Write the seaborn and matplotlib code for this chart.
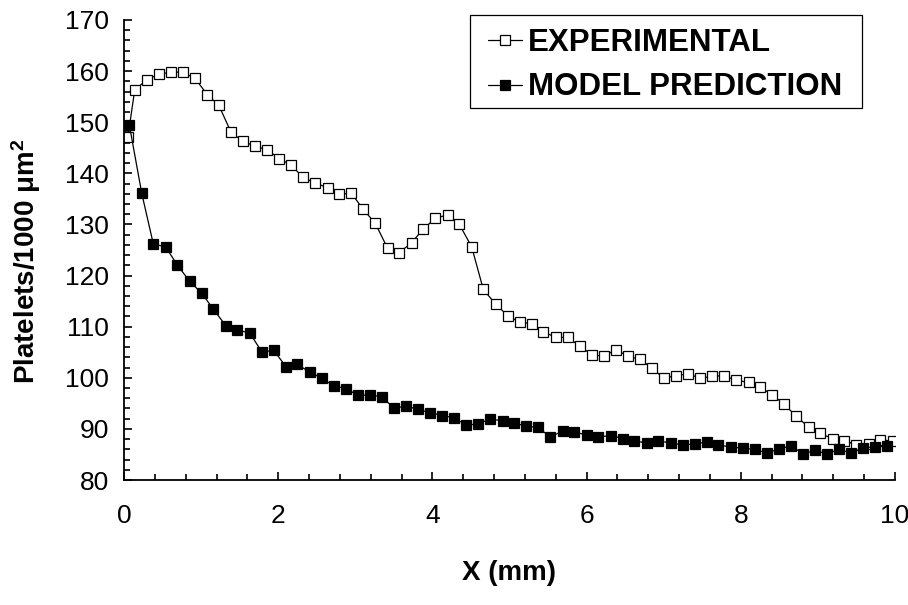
import matplotlib
matplotlib.use("Agg")
import matplotlib.pyplot as plt
from matplotlib.patches import Rectangle
from matplotlib.ticker import MultipleLocator
import seaborn as sns

# Sampling positions along the channel (mm)
x_experimental = [0.05, 0.14, 0.30, 0.45, 0.61, 0.76, 0.92, 1.08, 1.23, 1.39, 1.54,
                  1.70, 1.86, 2.01, 2.17, 2.32, 2.48, 2.64, 2.79, 2.95, 3.10,
                  3.26, 3.42, 3.57, 3.73, 3.88, 4.04, 4.20, 4.35, 4.51, 4.66,
                  4.82, 4.98, 5.13, 5.29, 5.44, 5.60, 5.76, 5.91, 6.07, 6.22,
                  6.38, 6.54, 6.69, 6.85, 7.00, 7.16, 7.32, 7.47, 7.63, 7.78,
                  7.94, 8.10, 8.25, 8.41, 8.56, 8.72, 8.88, 9.03, 9.19, 9.34,
                  9.50, 9.66, 9.81, 9.97]
y_experimental = [147.1, 156.4, 158.3, 159.4, 159.8, 159.8, 158.6, 155.4, 153.3, 148.0, 146.3,
                  145.3, 144.6, 142.9, 141.6, 139.2, 138.1, 137.2, 135.9, 136.1, 133.0,
                  130.2, 125.3, 124.5, 126.4, 129.1, 131.2, 131.9, 130.0, 125.6, 117.3,
                  114.4, 112.1, 110.9, 110.6, 109.0, 107.9, 107.9, 106.2, 104.5, 104.2,
                  105.5, 104.2, 103.6, 101.9, 99.9, 100.4, 100.8, 99.9, 100.3, 100.4,
                  99.5, 99.1, 98.1, 96.7, 94.8, 92.5, 90.3, 89.1, 88.1, 87.7,
                  86.9, 87.0, 87.9, 87.6]

x_model = [0.07, 0.23, 0.38, 0.54, 0.69, 0.85, 1.01, 1.16, 1.32, 1.47,
           1.63, 1.79, 1.94, 2.10, 2.25, 2.41, 2.57, 2.72, 2.88, 3.03,
           3.19, 3.35, 3.50, 3.66, 3.81, 3.97, 4.13, 4.28, 4.44, 4.59,
           4.75, 4.91, 5.06, 5.22, 5.37, 5.53, 5.69, 5.84, 6.00, 6.15,
           6.31, 6.47, 6.62, 6.78, 6.93, 7.09, 7.25, 7.40, 7.56, 7.71,
           7.87, 8.03, 8.18, 8.34, 8.49, 8.65, 8.81, 8.96, 9.12, 9.27,
           9.43, 9.59, 9.74, 9.90]
y_model = [149.4, 136.1, 126.2, 125.6, 122.1, 118.9, 116.5, 113.4, 110.2, 109.3,
           108.8, 105.0, 105.4, 102.2, 102.6, 101.1, 99.9, 98.4, 97.9, 96.6,
           96.6, 96.3, 94.0, 94.5, 93.8, 93.2, 92.6, 92.2, 90.7, 91.0,
           91.9, 91.6, 91.2, 90.5, 90.3, 88.4, 89.6, 89.4, 88.8, 88.4,
           88.7, 88.1, 87.7, 87.2, 87.6, 87.3, 86.8, 87.1, 87.4, 86.8,
           86.5, 86.2, 86.0, 85.3, 86.0, 86.7, 85.1, 85.8, 85.1, 86.0,
           85.3, 86.3, 86.5, 86.6]

x_ticks = [0, 2, 4, 6, 8, 10]
y_ticks = [80, 90, 100, 110, 120, 130, 140, 150, 160, 170]

sns.set_theme(style="white")
plt.rcParams["font.family"] = ["Liberation Sans", "DejaVu Sans"]
plt.rcParams["mathtext.fontset"] = "custom"
plt.rcParams["mathtext.rm"] = "Liberation Sans"
plt.rcParams["mathtext.bf"] = "Liberation Sans:bold"
plt.rcParams["mathtext.it"] = "Liberation Sans:italic"
for key in ("text.color", "axes.labelcolor", "xtick.color", "ytick.color",
            "axes.edgecolor"):
    plt.rcParams[key] = "black"

fig = plt.figure(figsize=(9.08, 6.05), dpi=100)
ax = fig.add_axes([124 / 908, 125 / 605, 771 / 908, 460 / 605])

sns.lineplot(x=x_experimental, y=y_experimental, ax=ax, sort=False, estimator=None,
             color="black", linewidth=0.9, marker="s", markersize=7.5,
             markerfacecolor="white", markeredgecolor="black", markeredgewidth=0.9,
             label="EXPERIMENTAL")
sns.lineplot(x=x_model, y=y_model, ax=ax, sort=False, estimator=None,
             color="black", linewidth=0.9, marker="s", markersize=7.5,
             markerfacecolor="black", markeredgecolor="black", markeredgewidth=0.9,
             label="MODEL PREDICTION")

ax.set_xlim(0, 10)
ax.set_ylim(80, 170)
ax.set_xticks(x_ticks)
ax.set_yticks(y_ticks)
ax.xaxis.set_minor_locator(MultipleLocator(0.4))
ax.yaxis.set_minor_locator(MultipleLocator(2))

for side in ("top", "right"):
    ax.spines[side].set_visible(False)
for side in ("left", "bottom"):
    ax.spines[side].set_color("black")
    ax.spines[side].set_linewidth(1.3)

ax.tick_params(axis="both", which="both", direction="in", color="black",
               left=True, bottom=True, width=1.2)
ax.tick_params(axis="both", which="major", length=6, labelsize=19, labelcolor="black")
ax.tick_params(axis="both", which="minor", length=4)
ax.tick_params(axis="x", which="major", pad=17)
ax.tick_params(axis="y", which="major", pad=11)

ax.set_xlabel("X (mm)", fontsize=20, fontweight="bold", labelpad=23)
ax.set_ylabel(r"Platelets/1000 $\mathregular{\mu}$m$^{\mathbf{2}}$", fontsize=20,
              fontweight="bold")
ax.yaxis.set_label_coords(-0.105, 0.475)

# Legend entries without their own frame; a plain box is drawn around them
leg = ax.legend(loc="upper right", bbox_to_anchor=(852 / 908, 1 - 19 / 605),
                bbox_transform=fig.transFigure, frameon=False,
                prop={"weight": "bold", "size": 22.5},
                handlelength=1.1, handletextpad=0.2, borderpad=0.3,
                labelspacing=0.45, borderaxespad=0, markerscale=0.9)
fig.add_artist(Rectangle((470 / 908, 1 - 108 / 605), 392 / 908, 93 / 605,
                         transform=fig.transFigure, fill=False,
                         edgecolor="black", linewidth=0.9))

fig.savefig("out.png", dpi=100)
